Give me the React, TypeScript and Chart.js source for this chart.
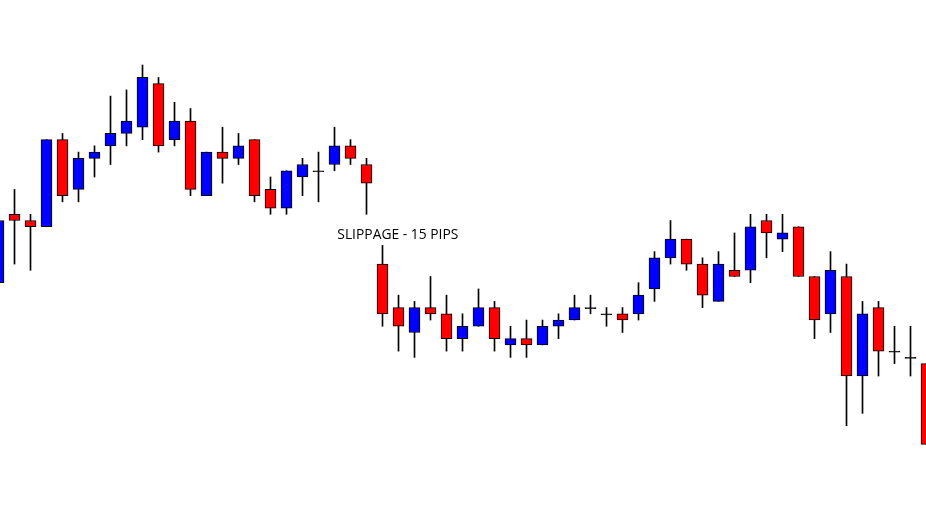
import { useEffect, useRef } from "react";
import { Chart, registerables } from "chart.js";

Chart.register(...registerables);

// Price levels in points (higher = higher price), one entry per bar
const openPts = [34, 45, 44, 43, 57, 49, 54, 56, 58, 59, 66, 57, 60, 48, 55, 54, 57, 49, 46, 51, 52, 53, 56, 53, 37, 30, 26, 30, 29, 25, 27, 30, 24, 25, 24, 27, 28, 30, 29, 29, 29, 33, 38, 41, 37, 31, 36, 36, 44, 41, 43, 35, 29, 35, 19, 30, 23, 22, 21];
const highPts = [44, 49, 45, 57, 58, 55, 56, 64, 65, 69, 67, 63, 62, 55, 59, 58, 57, 51, 52, 54, 55, 59, 57, 54, 40, 32, 31, 35, 32, 29, 33, 31, 27, 28, 28, 29, 32, 32, 30, 30, 34, 39, 44, 41, 38, 39, 42, 45, 45, 45, 43, 35, 39, 37, 31, 31, 27, 27, 21];
const lowPts = [34, 37, 36, 43, 47, 47, 51, 53, 56, 57, 55, 56, 48, 48, 50, 53, 47, 45, 45, 48, 47, 52, 53, 45, 27, 23, 22, 28, 23, 23, 27, 23, 22, 22, 24, 25, 28, 29, 27, 26, 28, 31, 37, 36, 30, 31, 35, 34, 38, 39, 35, 25, 26, 11, 13, 19, 21, 19, 8];
const closePts = [44, 44, 43, 57, 48, 54, 55, 58, 60, 67, 56, 60, 49, 55, 54, 56, 48, 46, 52, 53, 52, 56, 54, 50, 29, 27, 30, 29, 25, 27, 30, 25, 25, 24, 27, 28, 30, 30, 29, 28, 32, 38, 41, 37, 32, 37, 35, 43, 42, 42, 35, 28, 36, 19, 29, 23, 23, 22, 8];

const LABEL_TEXT = "SLIPPAGE - 15 PIPS";
const LABEL_BAR = 21.175;
const LABEL_PRICE = 41.1;

// visible window of the chart
const X_MIN = 0.09375;
const X_MAX = 57.96875;
const Y_MIN = -4.79;
const Y_MAX = 79.45;

const BULL = "#0000ff";
const BEAR = "#ff0000";

export default function App() {
  const ref = useRef<HTMLCanvasElement | null>(null);

  useEffect(() => {
    document.body.style.margin = "0";
    const canvas = ref.current;
    if (!canvas) return;

    const bodies = openPts.map((o, i) => ({ x: i, y: [o, closePts[i]] }));
    const wicks = lowPts.map((l, i) => ({ x: i, y: [l, highPts[i]] }));
    const bodyColors = openPts.map((o, i) =>
      closePts[i] > o ? BULL : closePts[i] < o ? BEAR : "#000000"
    );

    const labelPlugin = {
      id: "slippageLabel",
      afterDatasetsDraw(chart: any) {
        const { ctx, scales } = chart;
        ctx.save();
        ctx.font = '14px "Open Sans"';
        ctx.fillStyle = "#000000";
        ctx.textAlign = "left";
        ctx.textBaseline = "alphabetic";
        ctx.fillText(
          LABEL_TEXT,
          scales.x.getPixelForValue(LABEL_BAR),
          scales.y.getPixelForValue(LABEL_PRICE),
          121
        );
        ctx.restore();
      },
    };

    const chart = new Chart(canvas, {
      type: "bar",
      data: {
        datasets: [
          {
            label: "body",
            data: bodies as any,
            backgroundColor: bodyColors,
            borderColor: "#000000",
            borderWidth: 1,
            borderSkipped: false,
            barThickness: 11,
            minBarLength: 1,
            grouped: false,
            order: 0,
          } as any,
          {
            label: "wick",
            data: wicks as any,
            backgroundColor: "#000000",
            borderWidth: 0,
            barThickness: 1,
            grouped: false,
            order: 1,
          } as any,
        ],
      },
      options: {
        animation: false,
        responsive: false,
        devicePixelRatio: 1,
        events: [],
        layout: { padding: 0 },
        plugins: {
          legend: { display: false },
          tooltip: { enabled: false },
          title: { display: false },
        },
        scales: {
          x: {
            type: "linear",
            display: false,
            offset: false,
            min: X_MIN,
            max: X_MAX,
          },
          y: {
            type: "linear",
            display: false,
            min: Y_MIN,
            max: Y_MAX,
            beginAtZero: false,
          },
        },
      },
      plugins: [labelPlugin],
    });

    return () => chart.destroy();
  }, []);

  return (
    <div
      style={{
        position: "fixed",
        left: 0,
        top: 0,
        width: 926,
        height: 524,
        background: "#ffffff",
      }}
    >
      <canvas ref={ref} width={926} height={524} style={{ display: "block" }} />
    </div>
  );
}
